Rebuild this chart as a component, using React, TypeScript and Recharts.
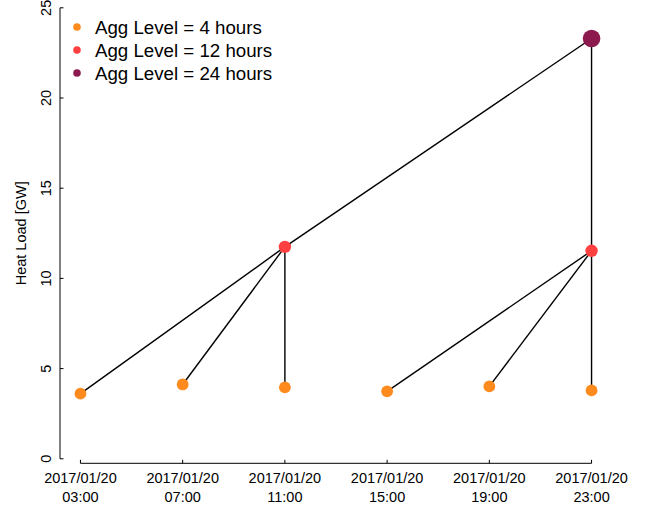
import React from 'react';
import { ComposedChart, XAxis, YAxis, Scatter, Line, ReferenceLine, Legend } from 'recharts';

// Data (hour of day on 2017/01/20, heat load in GW)
const hours4 = [3, 7, 11, 15, 19, 23];
const load4 = [3.61, 4.12, 3.96, 3.74, 4.01, 3.79];
const hours12 = [11, 23];
const load12 = [11.75, 11.53];
const hours24 = [23];
const load24 = [23.3];
const parentOf4 = [0, 0, 0, 1, 1, 1];
const parentOf12 = [0, 0];

const xTicks = [3, 7, 11, 15, 19, 23];
const xTickDates = ['2017/01/20', '2017/01/20', '2017/01/20', '2017/01/20', '2017/01/20', '2017/01/20'];
const xTickTimes = ['03:00', '07:00', '11:00', '15:00', '19:00', '23:00'];
const yTicks = [0, 5, 10, 15, 20, 25];
const legendLabels = ['Agg Level = 4 hours', 'Agg Level = 12 hours', 'Agg Level = 24 hours'];
const levelColors = ['#FF8B1E', '#FF4040', '#8C1A4E'];
const dotRadius = [5.9, 6.2, 8.8];

const FONT = '"Liberation Sans", Arial, Helvetica, sans-serif';

const pts4 = hours4.map((x, i) => ({ x, y: load4[i] }));
const pts12 = hours12.map((x, i) => ({ x, y: load12[i] }));
const pts24 = hours24.map((x, i) => ({ x, y: load24[i] }));

const edges = [
  ...pts4.map((p, i) => [p, pts12[parentOf4[i]]]),
  ...pts12.map((p, i) => [p, pts24[parentOf12[i]]]),
];

const YTick = (p: any) => {
  const tx = p.x - 9;
  return (
    <g>
      <line x1={p.x} x2={p.x + 3.5} y1={p.y} y2={p.y} stroke="#000" strokeWidth={1} />
      <text
        x={tx}
        y={p.y}
        transform={`rotate(-90, ${tx}, ${p.y})`}
        textAnchor="middle"
        fontSize={14.5}
        fontFamily={FONT}
        fill="#000"
      >
        {p.payload.value}
      </text>
    </g>
  );
};

const XTick = (p: any) => {
  const i = xTicks.indexOf(p.payload.value);
  return (
    <g>
      <line x1={p.x} x2={p.x} y1={p.y} y2={p.y - 3.5} stroke="#000" strokeWidth={1} />
      <text x={p.x} y={p.y + 19.7} textAnchor="middle" fontSize={14.5} fontFamily={FONT} fill="#000">
        {xTickDates[i]}
      </text>
      <text x={p.x} y={p.y + 38.7} textAnchor="middle" fontSize={14.5} fontFamily={FONT} fill="#000">
        {xTickTimes[i]}
      </text>
    </g>
  );
};

const YTitle = (p: any) => {
  const vb = p.viewBox || { x: 0, y: 3.3, width: 60, height: 460 };
  const x = vb.x + 26;
  const y = vb.y + vb.height / 2;
  return (
    <text
      x={x}
      y={y}
      transform={`rotate(-90, ${x}, ${y})`}
      textAnchor="middle"
      fontSize={14.5}
      fontFamily={FONT}
      fill="#000"
    >
      Heat Load [GW]
    </text>
  );
};

const LegendBox = () => (
  <svg width={320} height={90} style={{ display: 'block' }}>
    {legendLabels.map((l, i) => (
      <g key={l}>
        <circle cx={77} cy={27 + i * 23} r={3.8} fill={levelColors[i]} />
        <text x={95} y={27 + i * 23 + 6.7} fontSize={18.7} fontFamily={FONT} fill="#000">
          {l}
        </text>
      </g>
    ))}
  </svg>
);

const makeShape = (color: string, r: number) => (p: any) => (
  <circle cx={p.cx} cy={p.cy} r={r} fill={color} />
);

export default function App() {
  return (
    <div style={{ position: 'absolute', left: 0, top: 0, background: '#fff' }}>
      <ComposedChart
        width={654}
        height={509}
        margin={{ top: 3.3, right: 42, left: 0, bottom: 0 }}
      >
        <XAxis
          type="number"
          dataKey="x"
          domain={[2.2, 23.8]}
          ticks={xTicks}
          axisLine={false}
          tickLine={false}
          tickSize={0}
          tickMargin={0}
          height={45.7}
          tick={<XTick />}
          interval={0}
          allowDataOverflow
        />
        <YAxis
          type="number"
          dataKey="y"
          domain={[-0.25, 25.25]}
          ticks={yTicks}
          axisLine={false}
          tickLine={false}
          tickSize={0}
          tickMargin={0}
          width={60}
          tick={<YTick />}
          interval={0}
          allowDataOverflow
          label={<YTitle />}
        />
        <ReferenceLine
          segment={[{ x: 2.2, y: 0 }, { x: 2.2, y: 25 }]}
          stroke="#000"
          strokeWidth={1}
          ifOverflow="visible"
        />
        <ReferenceLine
          segment={[{ x: 3, y: -0.25 }, { x: 23, y: -0.25 }]}
          stroke="#000"
          strokeWidth={1}
          ifOverflow="visible"
        />
        {edges.map((e, i) => (
          <Line
            key={`edge-${i}`}
            data={e}
            dataKey="y"
            stroke="#000"
            strokeWidth={1.4}
            dot={false}
            activeDot={false}
            isAnimationActive={false}
            legendType="none"
          />
        ))}
        <Scatter data={pts4} dataKey="y" shape={makeShape(levelColors[0], dotRadius[0])} isAnimationActive={false} />
        <Scatter data={pts12} dataKey="y" shape={makeShape(levelColors[1], dotRadius[1])} isAnimationActive={false} />
        <Scatter data={pts24} dataKey="y" shape={makeShape(levelColors[2], dotRadius[2])} isAnimationActive={false} />
        <Legend
          layout="horizontal"
          verticalAlign="middle"
          align="center"
          wrapperStyle={{ position: 'absolute', left: 0, top: 0, width: 320, height: 90 }}
          content={<LegendBox />}
        />
      </ComposedChart>
    </div>
  );
}
